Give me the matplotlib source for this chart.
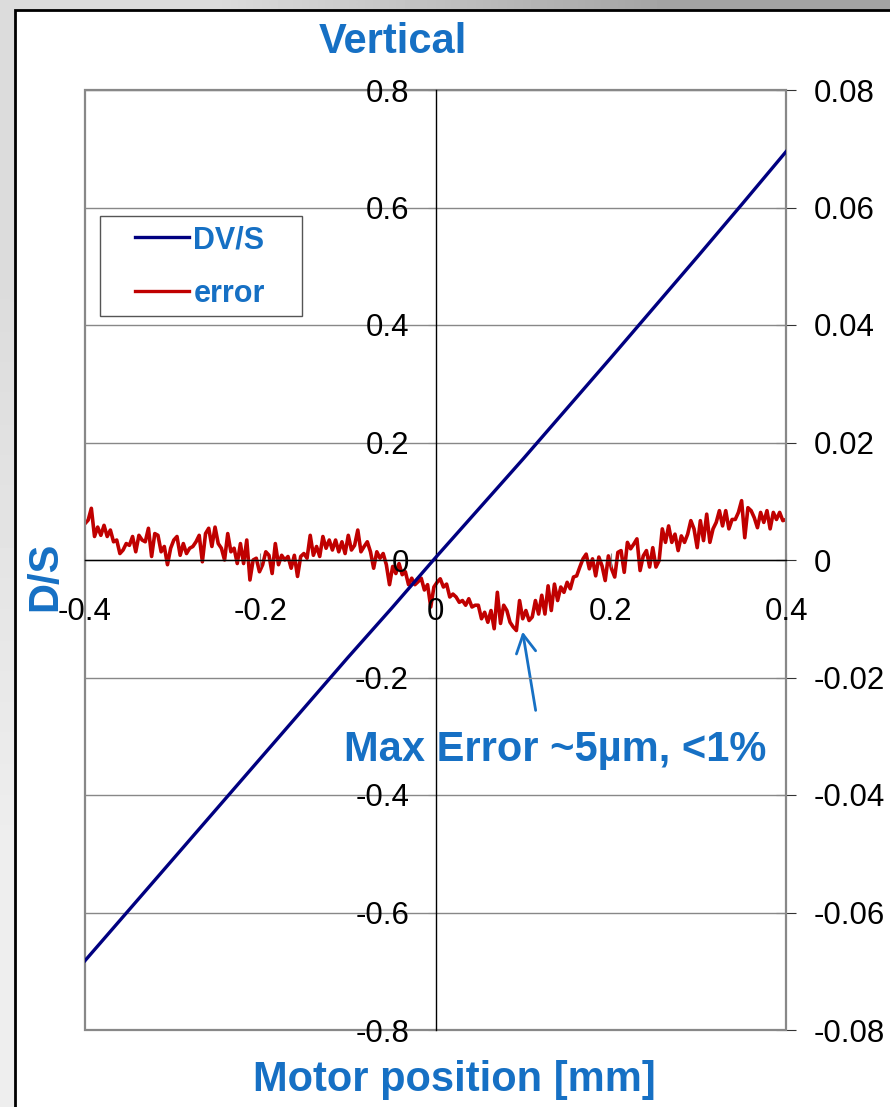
import numpy as np
import matplotlib.pyplot as plt
from matplotlib.patches import Rectangle
from matplotlib.lines import Line2D

plt.rcParams['font.family'] = ['Liberation Sans', 'DejaVu Sans']

BLUE = '#1670c4'

# DV/S every 0.05 mm (left axis)
dvs_x = [-0.40, -0.35, -0.30, -0.25, -0.20, -0.15, -0.10, -0.05, 0.00,
         0.05, 0.10, 0.15, 0.20, 0.25, 0.30, 0.35, 0.40]
dvs = [-0.682, -0.596, -0.510, -0.424, -0.338, -0.252, -0.166, -0.082, 0.004,
       0.088, 0.172, 0.258, 0.344, 0.431, 0.518, 0.606, 0.695]

# error, evenly spaced samples from -0.4 to 0.4 mm (right axis)
error = [
    0.0062, 0.0068, 0.0088, 0.0040, 0.0056, 0.0042, 0.0059, 0.0040, 0.0051, 0.0031,
    0.0034, 0.0011, 0.0017, 0.0028, 0.0025, 0.0040, 0.0014, 0.0042, 0.0034, 0.0031,
    0.0054, 0.0006, 0.0045, 0.0042, 0.0014, 0.0023, -0.0008, 0.0020, 0.0034, 0.0040,
    0.0008, 0.0028, 0.0011, 0.0020, 0.0023, 0.0031, 0.0042, -0.0003, 0.0045, 0.0054,
    0.0023, 0.0056, 0.0028, 0.0020, 0.0000, 0.0045, 0.0014, 0.0020, -0.0006, 0.0028,
    -0.0006, 0.0034, -0.0034, 0.0000,
    0.0003, -0.0020, -0.0008, 0.0014, 0.0008, -0.0023, 0.0028, -0.0008, 0.0008, 0.0000,
    0.0006, -0.0014, 0.0008, -0.0028, 0.0006, 0.0011, 0.0003, 0.0042, 0.0008, 0.0023,
    0.0006, 0.0040, 0.0020, 0.0034, 0.0017, 0.0034, 0.0014, 0.0031, 0.0011, 0.0042,
    0.0017, 0.0025, 0.0051, 0.0014, 0.0023, 0.0031, 0.0014, -0.0014, 0.0014, 0.0003,
    0.0011, -0.0008, -0.0042, -0.0011, -0.0023, -0.0006, -0.0025, -0.0020, -0.0042, -0.0031,
    -0.0042, -0.0037, -0.0031, -0.0051, -0.0042,
    -0.0080, -0.0046, -0.0038, -0.0032, -0.0046, -0.0041, -0.0063, -0.0058, -0.0063, -0.0072,
    -0.0069, -0.0077, -0.0066, -0.0080, -0.0077, -0.0077, -0.0100, -0.0089, -0.0106, -0.0086,
    -0.0117, -0.0055, -0.0108, -0.0077, -0.0086, -0.0106, -0.0114, -0.0120, -0.0069, -0.0100,
    -0.0086, -0.0103, -0.0097, -0.0069, -0.0092, -0.0060, -0.0092, -0.0044, -0.0086, -0.0041,
    -0.0069, -0.0046, -0.0055, -0.0038, -0.0049, -0.0029, -0.0027, -0.0012, 0.0002, 0.0010,
    -0.0015, 0.0002, -0.0027, 0.0005, -0.0010,
    -0.0035, 0.0007, -0.0015, -0.0029, 0.0013, 0.0016, -0.0021, 0.0030, 0.0019, 0.0027,
    0.0036, -0.0018, 0.0007, 0.0016, -0.0012, 0.0021, -0.0012, -0.0001, 0.0053, 0.0030,
    0.0058, 0.0030, 0.0044, 0.0016, 0.0041, 0.0030, 0.0044, 0.0067, 0.0053, 0.0021,
    0.0067, 0.0033, 0.0078, 0.0030, 0.0053, 0.0064, 0.0084, 0.0058, 0.0084, 0.0053,
    0.0069, 0.0069, 0.0081, 0.0101, 0.0038, 0.0089, 0.0084, 0.0072, 0.0055, 0.0081,
    0.0064, 0.0084, 0.0053, 0.0081, 0.0069, 0.0081, 0.0067, 0.0069,
]
err_x = np.linspace(-0.4, 0.4, len(error))

x_ticks = [-0.4, -0.2, 0.0, 0.2, 0.4]
x_labels = ['-0.4', '-0.2', '0', '0.2', '0.4']
left_ticks = [0.8, 0.6, 0.4, 0.2, 0.0, -0.2, -0.4, -0.6, -0.8]
left_labels = ['0.8', '0.6', '0.4', '0.2', '0', '-0.2', '-0.4', '-0.6', '-0.8']
right_ticks = [0.08, 0.06, 0.04, 0.02, 0.0, -0.02, -0.04, -0.06, -0.08]
right_labels = ['0.08', '0.06', '0.04', '0.02', '0', '-0.02', '-0.04', '-0.06', '-0.08']

W, H = 890, 1107


def fx(px):
    return px / W


def fy(py):
    return 1 - py / H


fig = plt.figure(figsize=(W / 100, H / 100), dpi=100)

# slide-like gray frame behind everything
bg = fig.add_axes([0, 0, 1, 1], zorder=-10)
grad = np.array([[0.86, 0.64], [0.93, 0.85]])
bg.imshow(grad, cmap='gray', vmin=0, vmax=1, extent=[0, 1, 0, 1],
          aspect='auto', interpolation='bilinear')
bg.add_patch(Rectangle((fx(15), -0.1), 1.2, fy(9.5) + 0.1,
                       facecolor='white', edgecolor='black', lw=2))
bg.set_xlim(0, 1)
bg.set_ylim(0, 1)
bg.axis('off')

ax = fig.add_axes([fx(85), 1 - 1030 / H, 701 / W, 940 / H])
ax2 = ax.twinx()
ax.set_zorder(ax2.get_zorder() + 1)
ax.patch.set_visible(False)

ax.add_patch(Rectangle((0, 0), 1, 1, transform=ax.transAxes, fill=False,
                       edgecolor='#888888', lw=1.6, clip_on=False, zorder=1))

ax.set_xlim(-0.4, 0.4)
ax.set_ylim(-0.8, 0.8)
ax2.set_ylim(-0.08, 0.08)

for s in ['top', 'right']:
    ax.spines[s].set_visible(False)
ax.spines['left'].set_position(('data', 0))
ax.spines['bottom'].set_position(('data', 0))
ax.spines['left'].set_linewidth(1)
ax.spines['bottom'].set_linewidth(1)
for s in ['top', 'left', 'bottom']:
    ax2.spines[s].set_visible(False)
ax2.spines['right'].set_linewidth(1.3)

ax.set_xticks(x_ticks, x_labels)
ax.set_yticks(left_ticks, left_labels)
ax2.set_yticks(right_ticks, right_labels)
ax.tick_params(axis='x', direction='inout', length=10, color='#888888',
               pad=22, labelsize=22.5)
ax.tick_params(axis='y', direction='out', length=6, color='#888888',
               pad=13, labelsize=22.5)
ax2.tick_params(axis='y', direction='inout', length=14, color='#333333',
                pad=13, labelsize=22.5)
ax.yaxis.grid(True, color='#888888', lw=1)

ax.plot(dvs_x, dvs, color='#000080', lw=2.4, zorder=3)
ax2.plot(err_x, error, color='#c00000', lw=2.6)

# legend box
ax.add_patch(Rectangle((fx(100), fy(316)), 202 / W, 100 / H,
                       transform=fig.transFigure, facecolor='white',
                       edgecolor='#555555', lw=1, zorder=4, clip_on=False))
handles = [Line2D([], [], color='#000080', lw=2.4),
           Line2D([], [], color='#c00000', lw=2.4)]
leg = ax.legend(handles, ['DV/S', 'error'], loc='center',
                bbox_to_anchor=(fx(200), fy(267)), bbox_transform=fig.transFigure,
                frameon=False, prop={'weight': 'bold', 'size': 22},
                labelcolor=BLUE, handlelength=1.75, handletextpad=0.15,
                labelspacing=0.78)
leg.set_zorder(6)

# annotation
ax2.annotate('', xy=(0.0994, -0.0122), xytext=(0.1143, -0.0256),
             arrowprops=dict(arrowstyle='->,head_length=0.65,head_width=0.35',
                             color=BLUE, lw=2, shrinkA=0, shrinkB=0,
                             mutation_scale=20))
fig.text(fx(555), fy(750), 'Max Error ~5µm, <1%', color=BLUE, fontsize=30,
         fontweight='bold', ha='center', va='center')

fig.text(fx(393), fy(42), 'Vertical', color=BLUE, fontsize=30,
         fontweight='bold', ha='center', va='center')
fig.text(fx(454), fy(1080), 'Motor position [mm]', color=BLUE, fontsize=30,
         fontweight='bold', ha='center', va='center')
fig.text(fx(45), fy(576), 'D/S', color=BLUE, fontsize=30,
         fontweight='bold', ha='center', va='center', rotation=90)

fig.savefig('out.png', dpi=100)
